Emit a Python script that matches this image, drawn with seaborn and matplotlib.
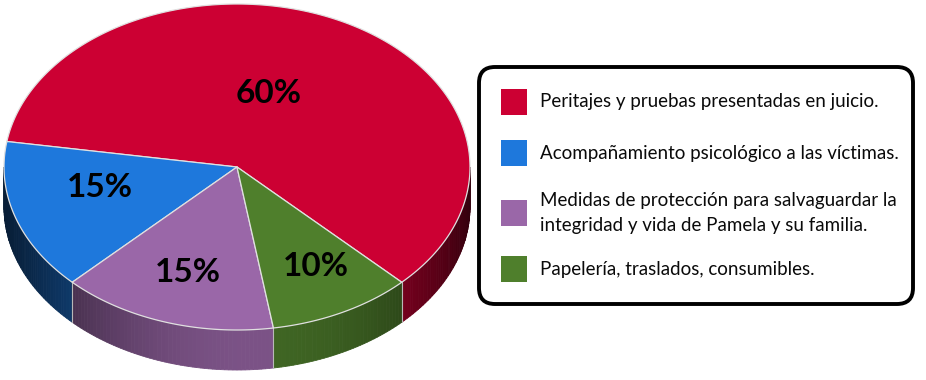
import numpy as np
import matplotlib
matplotlib.use("Agg")
import matplotlib.pyplot as plt
from matplotlib.patches import Polygon, Rectangle, FancyBboxPatch
import seaborn as sns

# ---- data ----
categories = [
    "Peritajes y pruebas presentadas en juicio.",
    "Acompañamiento psicológico a las víctimas.",
    "Medidas de protección para salvaguardar la\nintegridad y vida de Pamela y su familia.",
    "Papelería, traslados, consumibles.",
]
shares = [60, 15, 15, 10]
labels = ["60%", "15%", "15%", "10%"]
colors = ["#cc0033", "#1e78dc", "#9a67a8", "#4f7f2c"]

# ---- layout ----
sns.set_style("white")
plt.rcParams["font.family"] = ["Lato", "DejaVu Sans"]

W, H = 926, 380
fig = plt.figure(figsize=(W / 100, H / 100), dpi=100)
ax = fig.add_axes([0, 0, 1, 1])
ax.set_xlim(0, W)
ax.set_ylim(H, 0)
ax.axis("off")

cx, cy, a, b, depth = 237, 167, 233, 163, 40
start = 315.0
label_r = [0.47, 0.60, 0.68, 0.70]
label_shift = [10, -6, 0, 2]


def pt(theta_deg, r=1.0, dy=0.0):
    t = np.deg2rad(theta_deg)
    return cx + r * a * np.cos(t), cy - r * b * np.sin(t) + dy


def shade(color, theta):
    rgb = np.array(matplotlib.colors.to_rgb(color))
    f = 0.25 + 0.55 * np.cos(np.deg2rad(theta - 275)) ** 2
    return tuple(rgb * f)


# angular ranges
total = sum(shares)
bounds = []
ang = start
for s in shares:
    span = 360.0 * s / total
    bounds.append((ang, ang + span))
    ang += span

# side walls (visible front half 180..360)
for (t0, t1), col in zip(bounds, colors):
    for off in (-360, 0, 360):
        lo, hi = max(t0 + off, 180), min(t1 + off, 360)
        if hi <= lo:
            continue
        steps = np.linspace(lo, hi, int(np.ceil(hi - lo)) + 1)
        for u, v in zip(steps[:-1], steps[1:]):
            p1, p2 = pt(u), pt(v)
            p3, p4 = pt(v, dy=depth), pt(u, dy=depth)
            c = shade(col, (u + v) / 2)
            ax.add_patch(Polygon([p1, p2, p3, p4], closed=True, facecolor=c,
                                 edgecolor=c, lw=0.6, zorder=1))

# vertical seams on side
for (t0, _t1) in bounds:
    tt = t0 % 360
    if 180 < tt < 360:
        x0, y0 = pt(tt)
        ax.plot([x0, x0], [y0, y0 + depth], color="#b8b8b8", lw=0.8, zorder=2)

# top face wedges
for (t0, t1), col in zip(bounds, colors):
    th = np.linspace(t0, t1, 200)
    xs = cx + a * np.cos(np.deg2rad(th))
    ys = cy - b * np.sin(np.deg2rad(th))
    verts = [(cx, cy)] + list(zip(xs, ys))
    ax.add_patch(Polygon(verts, closed=True, facecolor=col, edgecolor="#e0e0e0",
                         lw=0.9, zorder=3, joinstyle="round"))

# percentage labels
for (t0, t1), lab, r, sh in zip(bounds, labels, label_r, label_shift):
    mid = (t0 + t1) / 2 + sh
    x, y = pt(mid, r=r)
    ax.text(x, y, lab, ha="center", va="center", fontsize=24, fontweight="bold",
            color="black", zorder=5)

# legend box
box = FancyBboxPatch((479, 67), 434, 237, boxstyle="round,pad=0,rounding_size=16",
                     facecolor="white", edgecolor="black", lw=2.8, zorder=4)
ax.add_patch(box)
row_y = [102, 153, 213, 269]
for cat, col, yy in zip(categories, colors, row_y):
    ax.add_patch(Rectangle((501, yy - 13), 26, 26, facecolor=col, edgecolor="none", zorder=5))
    ax.text(540, yy, cat, ha="left", va="center", fontsize=13.5, color="#0a0a0a",
            linespacing=1.6, zorder=5)

fig.savefig("out.png", dpi=100)
